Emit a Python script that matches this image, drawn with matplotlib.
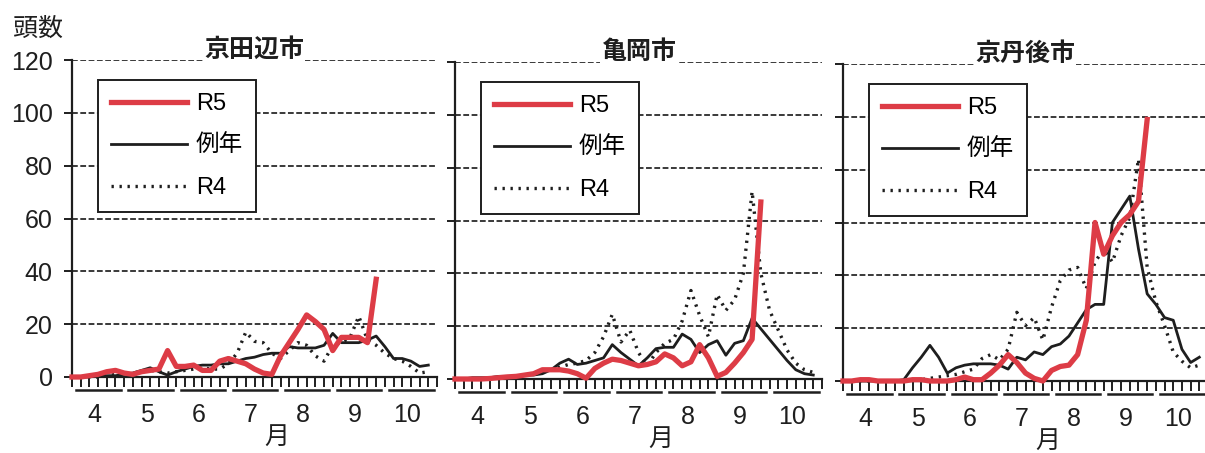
import numpy as np
import matplotlib.pyplot as plt
from matplotlib.transforms import blended_transform_factory

plt.rcParams['font.family'] = ['Liberation Sans', 'Noto Sans CJK JP']

# categories
months = ['4', '5', '6', '7', '8', '9', '10']
pentads_per_month = 6
yticks = [0, 20, 40, 60, 80, 100, 120]
titles = ['京田辺市', '亀岡市', '京丹後市']
series_labels = ['R5', '例年', 'R4']

# 京田辺市 (per pentad, from April)
kyotanabe_r5 = [0, 0, 0.5, 1, 2, 2.5, 1.5, 1, 2, 2.5, 3, 10, 4, 4, 4.5, 2.5, 2.5, 6,
                7, 6, 5, 3, 1.5, 1, 8, 13, 18, 23.5, 21, 18, 10, 15, 15, 15, 13, 37]
kyotanabe_avg = [0, 0, 0, 0.5, 0.5, 0.5, 1, 1.5, 2.5, 3.5, 2, 0.7, 2, 3, 4, 4.5, 4.5, 5,
                 5, 6, 7, 7.5, 8.5, 9, 9, 11.5, 11, 11, 11, 12, 16.5, 13, 13, 13, 14, 15.5,
                 11.5, 7, 7, 6, 4, 4.5]
kyotanabe_r4 = [0, 0, 0, 0, 0.5, 1, 1, 1.5, 2, 2.5, 2, 1.5, 2, 2.5, 3, 3.5, 3, 3,
                5, 9, 17, 13.5, 13, 9, 7, 10, 13, 12, 8, 6, 12, 13, 15, 23, 14, 12,
                9, 7, 6, 4, 1.5, 2]

# 亀岡市
kameoka_r5 = [0, 0, 0, 0, 0.2, 0.5, 0.8, 1, 1.5, 2, 3.5, 3.5, 3.5, 3, 2, 0.3, 4, 6,
              7.5, 7, 6, 5, 5.5, 6.5, 9.5, 8, 5, 6.5, 13, 8, 1, 2.5, 6, 10, 15, 67]
kameoka_avg = [0, 0, 0.5, 0.5, 0.5, 1, 1, 1, 1.5, 1.5, 2, 3.5, 6, 7.5, 5.5, 6, 7, 8,
               13, 10, 7.5, 5, 8, 11.5, 12, 12, 17, 15, 10, 13, 14.5, 9, 13.5, 14.5, 23, 19,
               15, 11, 7, 3.5, 2, 1.5]
kameoka_r4 = [0, 0, 0, 0, 0.5, 0.5, 1, 1, 1.5, 2, 2.5, 3.5, 4.5, 5.5, 6, 7, 10, 16,
              24.5, 14, 18.5, 10, 5, 10, 13.5, 15, 22, 33.5, 24, 16, 32, 26, 30, 40, 71, 40,
              26, 18.5, 11, 6, 3.5, 2.5]

# 京丹後市
kyotango_r5 = [0, 0, 0.5, 0.5, 0, 0, 0, 0, 0.5, 0.5, 0, 0, 0, 0.5, 1.5, 0.5, 0.5, 3,
               6, 10, 7, 3, 1, 0, 4, 5.5, 6, 10, 23, 60, 48, 55, 60, 63, 68, 99]
kyotango_avg = [0, 0, 0, 0, 0, 0, 0, 0.5, 5, 9, 13.5, 9, 3, 5, 6, 6.5, 6.5, 6.5,
                6, 4.5, 9, 8, 11, 10, 13, 14, 17, 22, 27, 29, 29, 60, 65, 70, 50, 33,
                29, 24, 23, 12, 7, 9]
kyotango_r4 = [0, 0, 0, 0, 0, 0, 0, 0, 0.5, 0.5, 1, 1.5, 2, 2.5, 3.5, 4.5, 8.5, 10,
               8, 12, 26, 21, 24, 15.5, 28, 38, 42, 43, 35, 45, 50, 45, 55, 62, 84, 43,
               30, 21, 11, 7.5, 5, 6]

panels = [
    (kyotanabe_r5, kyotanabe_avg, kyotanabe_r4),
    (kameoka_r5, kameoka_avg, kameoka_r4),
    (kyotango_r5, kyotango_avg, kyotango_r4),
]

W, H = 1205, 453
# axes boxes in pixels: left, right, top(120), bottom(0)
boxes = [(72, 437, 60, 377), (455, 822, 62, 379), (843, 1208, 64, 381)]

fig = plt.figure(figsize=(W / 100, H / 100), dpi=100)

n_pent = len(months) * pentads_per_month
red = '#dd3c46'
ink = '#1e1e1e'

for k, (box, title, data) in enumerate(zip(boxes, titles, panels)):
    l, r, t, b = box
    ax = fig.add_axes([l / W, 1 - b / H, (r - l) / W, (b - t) / H])
    ax.set_xlim(0, n_pent)
    ax.set_ylim(0, 120)

    for y in yticks[1:]:
        ax.axhline(y, color='#2a2a2a', lw=1.3, dashes=(3.2, 1.4), zorder=1)

    r5, avg, r4 = data
    ax.plot(np.arange(len(r4)), r4, color=ink, lw=2.4, linestyle=(0, (0.7, 1.7)),
            label=series_labels[2], zorder=3, clip_on=False)
    ax.plot(np.arange(len(avg)), avg, color=ink, lw=2.0, label=series_labels[1],
            zorder=4, clip_on=False)
    ax.plot(np.arange(len(r5)), r5, color=red, lw=3.8, label=series_labels[0],
            zorder=5, clip_on=False, solid_joinstyle='round')

    for side in ['top', 'right']:
        ax.spines[side].set_visible(False)
    ax.spines['left'].set_linewidth(1.6)
    ax.spines['bottom'].set_linewidth(1.6)
    ax.spines['left'].set_color(ink)
    ax.spines['bottom'].set_color(ink)

    ax.set_yticks(yticks)
    if k == 0:
        ax.set_yticklabels([str(v) for v in yticks], fontsize=18)
    else:
        ax.set_yticklabels([])
    ax.tick_params(axis='y', length=6, width=1.4, pad=8, colors=ink)

    # pentad ticks and month labels
    ax.set_xticks(np.arange(n_pent + 1), minor=True)
    ax.set_xticks(np.arange(len(months)) * pentads_per_month + 2.6)
    ax.set_xticklabels(months, fontsize=18)
    ax.tick_params(axis='x', which='minor', length=7, width=1.4, direction='out', colors=ink)
    ax.tick_params(axis='x', which='major', length=0, pad=19, colors=ink)

    tr = blended_transform_factory(ax.transData, ax.transAxes)
    for m in range(len(months)):
        x0 = m * pentads_per_month + 0.5
        ax.plot([x0, x0 + 5.1], [-0.04, -0.04], transform=tr, color=ink,
                lw=1.8, clip_on=False)
    ax.text(0.5 + 22 / (r - l), -0.19, '月', transform=ax.transAxes, ha='center',
            va='center', fontsize=18, color=ink)

    ax.text(0.5, 0.995, title, transform=ax.transAxes, ha='center', va='bottom',
            fontsize=18, fontweight='bold', color=ink,
            bbox=dict(facecolor='white', edgecolor='none', pad=0.5))

    handles, labs = ax.get_legend_handles_labels()
    order = [2, 1, 0]
    leg = ax.legend([handles[i] for i in order], [labs[i] for i in order],
                    loc='upper left', bbox_to_anchor=(26 / (r - l), 1 - 20 / (b - t)),
                    borderaxespad=0, fontsize=17, frameon=True, fancybox=False,
                    edgecolor=ink, framealpha=1, handlelength=3.2, handletextpad=0.4,
                    labelspacing=0.85, borderpad=0.55)
    leg.get_frame().set_linewidth(1.4)
    leg.set_zorder(10)

fig.text(13 / W, 1 - 29 / H, '頭数', ha='left', va='center', fontsize=18, color=ink)

fig.savefig('out.png', dpi=100)
